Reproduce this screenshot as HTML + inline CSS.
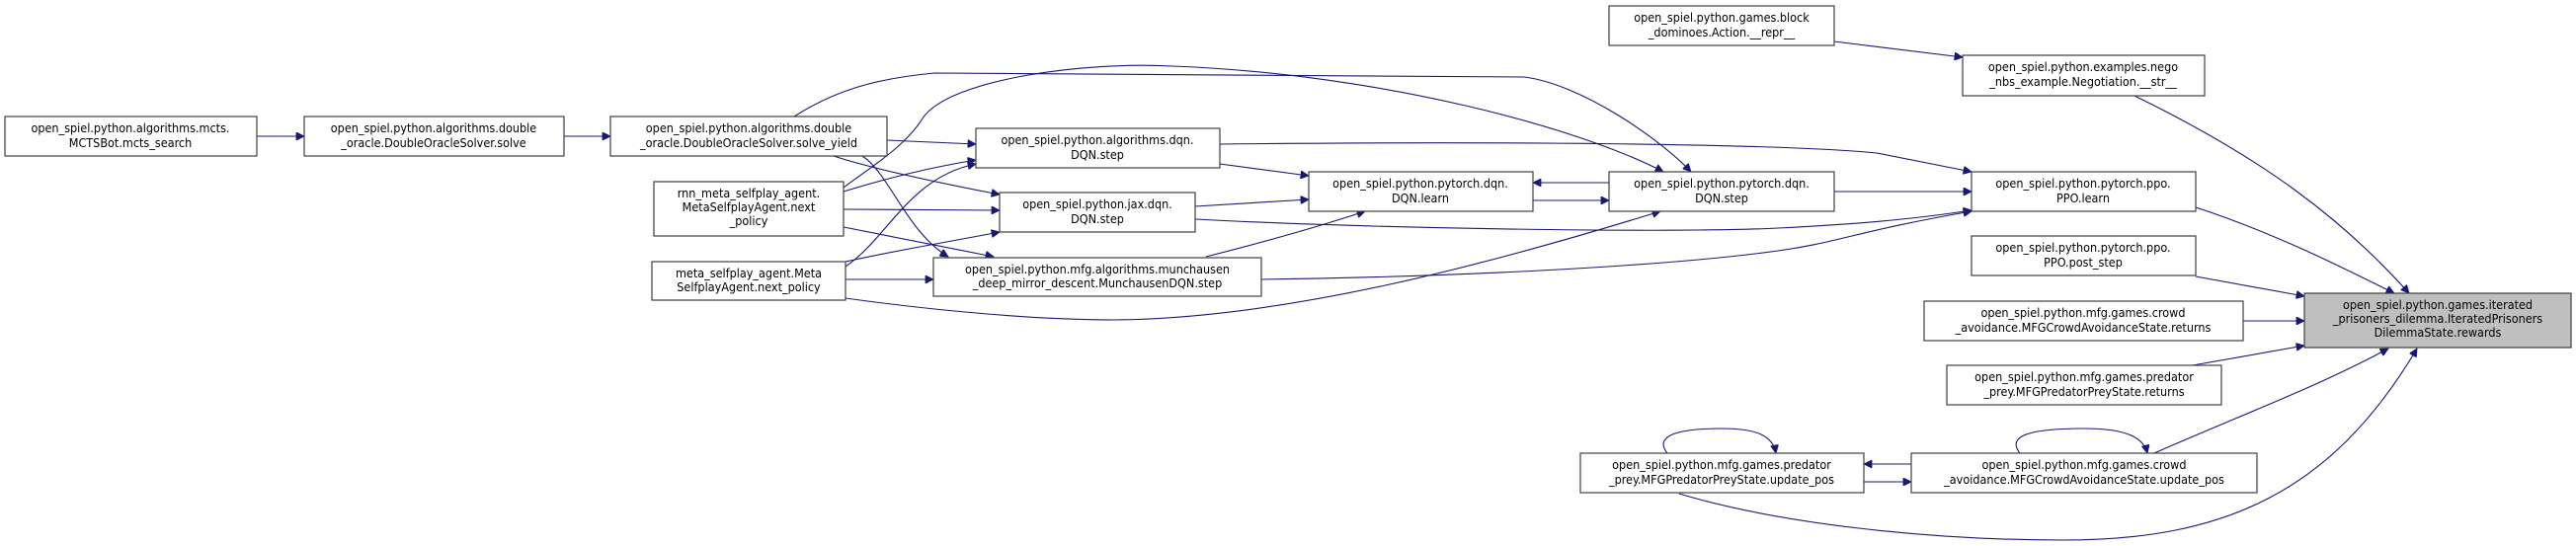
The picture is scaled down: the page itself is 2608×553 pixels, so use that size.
<!DOCTYPE html>
<html><head><meta charset="utf-8"><style>
html,body{margin:0;padding:0;background:#fff;}
svg{display:block}
text{font-family:"DejaVu Sans Condensed","Liberation Sans Narrow","Liberation Sans",sans-serif;font-size:12.5px;fill:#000;text-anchor:middle}
.n{fill:#fff;stroke:#404040;stroke-width:1.2}
.e{fill:none;stroke:#191970;stroke-width:1.1}
</style></head><body>
<svg width="2608" height="553" viewBox="0 0 2608 553" xmlns="http://www.w3.org/2000/svg">
<defs><marker id="a" viewBox="0 0 10 10" refX="10" refY="5" markerWidth="10" markerHeight="8" markerUnits="userSpaceOnUse" orient="auto"><path d="M0,0 L10,5 L0,10 z" fill="#191970" stroke="#191970"/></marker></defs>

<g class="edges">
<path class="e" marker-end="url(#a)" d="M260,138 L308,138"/>
<path class="e" marker-end="url(#a)" d="M571,138 L618,138"/>
<path class="e" marker-end="url(#a)" d="M804,118 C840,95 880,80 946,74 L1543,78 C1600,85 1680,140 1712,174"/>
<path class="e" marker-end="url(#a)" d="M854,190 C880,170 915,150 934,120 C960,80 1100,62 1187,67 C1400,75 1600,130 1684,174"/>
<path class="e" marker-end="url(#a)" d="M898,142 L988,146"/>
<path class="e" marker-end="url(#a)" d="M844,158 C880,170 950,185 1012,197"/>
<path class="e" marker-end="url(#a)" d="M873,158 C900,175 918,235 960,260"/>
<path class="e" marker-end="url(#a)" d="M854,194 C900,180 940,170 988,162"/>
<path class="e" marker-end="url(#a)" d="M854,212 L1012,213"/>
<path class="e" marker-end="url(#a)" d="M854,230 L1006,260"/>
<path class="e" marker-end="url(#a)" d="M856,270 C900,240 920,180 988,166"/>
<path class="e" marker-end="url(#a)" d="M856,265 C900,255 960,245 1012,235"/>
<path class="e" marker-end="url(#a)" d="M856,283 L945,283"/>
<path class="e" marker-end="url(#a)" d="M856,302 C950,315 1050,324 1130,324 C1300,322 1500,270 1681,214"/>
<path class="e" marker-end="url(#a)" d="M1235,146 C1500,143 1800,145 1900,155 L1996,174"/>
<path class="e" marker-end="url(#a)" d="M1235,166 L1325,178"/>
<path class="e" marker-end="url(#a)" d="M1210,209 L1325,202"/>
<path class="e" marker-end="url(#a)" d="M1210,222 C1400,232 1700,236 1800,231 C1900,226 1950,220 1996,213"/>
<path class="e" marker-end="url(#a)" d="M1221,260 C1280,245 1340,228 1382,214"/>
<path class="e" marker-end="url(#a)" d="M1277,283 C1500,280 1700,268 1800,254 C1860,246 1880,234 1996,214"/>
<path class="e" marker-end="url(#a)" d="M1629,185 L1552,185"/>
<path class="e" marker-end="url(#a)" d="M1552,203 L1629,203"/>
<path class="e" marker-end="url(#a)" d="M1857,194 L1996,194"/>
<path class="e" marker-end="url(#a)" d="M1857,42 L1987,58"/>
<path class="e" marker-end="url(#a)" d="M2161,97 C2290,160 2370,220 2439,297"/>
<path class="e" marker-end="url(#a)" d="M2223,210 C2300,235 2370,270 2424,297"/>
<path class="e" marker-end="url(#a)" d="M2223,280 L2333,300"/>
<path class="e" marker-end="url(#a)" d="M2271,325 L2333,325"/>
<path class="e" marker-end="url(#a)" d="M2220,370 L2333,350"/>
<path class="e" marker-end="url(#a)" d="M2181,459 C2270,420 2350,390 2418,353"/>
<path class="e" marker-end="url(#a)" d="M1700,500 C1800,530 1950,547 2089,547 C2250,547 2360,500 2447,353"/>
<path class="e" marker-end="url(#a)" d="M1935,470 L1887,470"/>
<path class="e" marker-end="url(#a)" d="M1887,488 L1935,488"/>
<path class="e" marker-end="url(#a)" d="M2045,459 C2030,440 2060,434 2110,434 C2150,434 2170,442 2174,459"/>
<path class="e" marker-end="url(#a)" d="M1688,459 C1673,440 1703,434 1743,434 C1780,434 1795,442 1798,459"/>
</g>

<g>
<rect class="n" x="5" y="118" width="255" height="40"/>
<text x="132" y="134">open_spiel.python.algorithms.mcts.</text><text x="132" y="149">MCTSBot.mcts_search</text>
<rect class="n" x="308" y="118" width="263" height="40"/>
<text x="439" y="134">open_spiel.python.algorithms.double</text><text x="439" y="149">_oracle.DoubleOracleSolver.solve</text>
<rect class="n" x="618" y="118" width="280" height="40"/>
<text x="758" y="134">open_spiel.python.algorithms.double</text><text x="758" y="149">_oracle.DoubleOracleSolver.solve_yield</text>
<rect class="n" x="662" y="184" width="192" height="55"/>
<text x="758" y="200">rnn_meta_selfplay_agent.</text><text x="758" y="214">MetaSelfplayAgent.next</text><text x="758" y="228">_policy</text>
<rect class="n" x="660" y="265" width="196" height="39"/>
<text x="758" y="281">meta_selfplay_agent.Meta</text><text x="758" y="295">SelfplayAgent.next_policy</text>
<rect class="n" x="1629" y="6" width="228" height="40"/>
<text x="1743" y="22">open_spiel.python.games.block</text><text x="1743" y="37">_dominoes.Action.__repr__</text>
<rect class="n" x="988" y="130" width="247" height="40"/>
<text x="1111" y="146">open_spiel.python.algorithms.dqn.</text><text x="1111" y="161">DQN.step</text>
<rect class="n" x="1012" y="195" width="198" height="40"/>
<text x="1111" y="211">open_spiel.python.jax.dqn.</text><text x="1111" y="226">DQN.step</text>
<rect class="n" x="945" y="261" width="332" height="39"/>
<text x="1111" y="277">open_spiel.python.mfg.algorithms.munchausen</text><text x="1111" y="291">_deep_mirror_descent.MunchausenDQN.step</text>
<rect class="n" x="1325" y="174" width="227" height="40"/>
<text x="1438" y="190">open_spiel.python.pytorch.dqn.</text><text x="1438" y="205">DQN.learn</text>
<rect class="n" x="1629" y="174" width="228" height="40"/>
<text x="1743" y="190">open_spiel.python.pytorch.dqn.</text><text x="1743" y="205">DQN.step</text>
<rect class="n" x="1600" y="459" width="287" height="40"/>
<text x="1743" y="475">open_spiel.python.mfg.games.predator</text><text x="1743" y="490">_prey.MFGPredatorPreyState.update_pos</text>
<rect class="n" x="1987" y="56" width="245" height="41"/>
<text x="2109" y="72">open_spiel.python.examples.nego</text><text x="2109" y="87">_nbs_example.Negotiation.__str__</text>
<rect class="n" x="1996" y="174" width="227" height="40"/>
<text x="2109" y="190">open_spiel.python.pytorch.ppo.</text><text x="2109" y="205">PPO.learn</text>
<rect class="n" x="1996" y="239" width="227" height="40"/>
<text x="2109" y="255">open_spiel.python.pytorch.ppo.</text><text x="2109" y="270">PPO.post_step</text>
<rect class="n" x="1948" y="305" width="323" height="40"/>
<text x="2109" y="321">open_spiel.python.mfg.games.crowd</text><text x="2109" y="336">_avoidance.MFGCrowdAvoidanceState.returns</text>
<rect class="n" x="1971" y="370" width="278" height="40"/>
<text x="2110" y="386">open_spiel.python.mfg.games.predator</text><text x="2110" y="401">_prey.MFGPredatorPreyState.returns</text>
<rect class="n" x="1935" y="459" width="350" height="40"/>
<text x="2110" y="475">open_spiel.python.mfg.games.crowd</text><text x="2110" y="490">_avoidance.MFGCrowdAvoidanceState.update_pos</text>
<rect x="2333" y="297" width="270" height="55" fill="#bfbfbf" stroke="#404040" stroke-width="1.2"/>
<text x="2468" y="313">open_spiel.python.games.iterated</text><text x="2468" y="327">_prisoners_dilemma.IteratedPrisoners</text><text x="2468" y="341">DilemmaState.rewards</text>
</g>
</svg>
</body></html>
